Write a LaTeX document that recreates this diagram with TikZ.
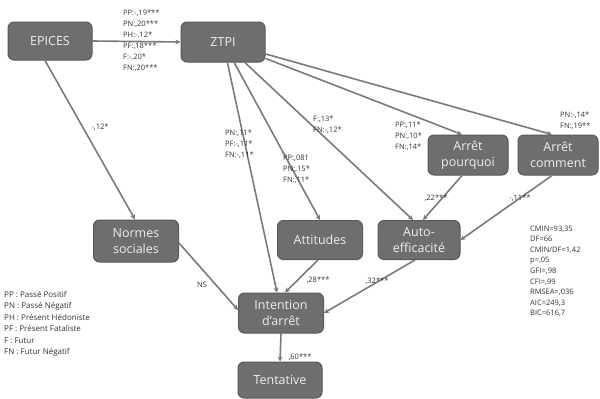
\documentclass[tikz,border=0pt]{standalone}
\usepackage{fontspec}
\setmainfont{Open Sans}
\usetikzlibrary{arrows.meta,calc}
\definecolor{boxfill}{HTML}{6E6E6E}
\definecolor{boxline}{HTML}{595959}
\definecolor{boxtext}{HTML}{EEEEEE}
\definecolor{edgecol}{HTML}{7A7A7A}
\definecolor{labeltext}{HTML}{333333}
\begin{document}
\begin{tikzpicture}[x=1pt,y=-1pt,
  box/.style={draw=boxline, fill=boxfill, line width=1pt, rounded corners=6pt,
    text=boxtext, font=\fontsize{12.5}{15.5}\selectfont, align=center, inner sep=0pt},
  edge/.style={draw=edgecol, line width=1.6pt, -{Stealth[length=5pt,width=5pt]}},
  lbl/.style={font=\fontsize{7.5}{11}\selectfont, text=labeltext, align=left, inner sep=0pt, anchor=north west},
  clbl/.style={font=\fontsize{7.5}{11}\selectfont, text=labeltext, inner sep=0pt}
]
\useasboundingbox (0,0) rectangle (600,399);
% boxes
\node[box, minimum width=84pt, minimum height=38pt] (epices) at (50,41) {EPICES};
\node[box, minimum width=84pt, minimum height=40pt] (ztpi) at (223,42) {ZTPI};
\node[box, minimum width=80pt, minimum height=40pt] (pourquoi) at (468,155) {Arrêt\\pourquoi};
\node[box, minimum width=80pt, minimum height=40pt] (comment) at (558,155) {Arrêt\\comment};
\node[box, minimum width=85pt, minimum height=42pt] (normes) at (136,241) {Normes\\sociales};
\node[box, minimum width=85pt, minimum height=39pt] (attitudes) at (320,240) {Attitudes};
\node[box, minimum width=82pt, minimum height=39pt] (auto) at (419,240) {Auto-\\efficacité};
\node[box, minimum width=85pt, minimum height=40pt] (intention) at (281,313) {Intention\\d'arrêt};
\node[box, minimum width=84pt, minimum height=36pt] (tentative) at (280,380) {Tentative};
% edges
\draw[edge] (epices.east) -- (ztpi.west);
\draw[edge] ($(epices.south)+(-5,0)$) -- ($(normes.north)+(-1,0)$);
\draw[edge] (ztpi) -- ($(intention.north)+(-4,0)$);
\draw[edge] (ztpi) -- (attitudes.north);
\draw[edge] (ztpi) -- ($(auto.north)+(-6,0)$);
\draw[edge] (ztpi) -- ($(pourquoi.north)+(-6,0)$);
\draw[edge] (ztpi) -- ($(comment.north)+(-6,0)$);
\draw[edge] ($(pourquoi.south)+(-6,0)$) -- ($(auto.north)+(4,0)$);
\draw[edge] ($(comment.south)+(-6,0)$) -- (auto.east);
\draw[edge] ($(normes.east)+(0,2)$) -- ($(intention.west)+(0,-3)$);
\draw[edge] ($(attitudes.south)+(-2,0)$) -- ($(intention.north)+(4,0)$);
\draw[edge] ($(auto.south)+(-4,0)$) -- (intention.east);
\draw[edge] (intention.south) -- (tentative.north);
% edge labels
\node[lbl] (l1) at (123,9.3) {PP:-,19***\\PN:,20***\\PH:-,12*\\PF:,18***\\F:-,20*\\FN:,20***};
\node[clbl] (l2) at (100,127) {-,12*};
\node[lbl] (l3) at (225,129.3) {PN:,11*\\PF:-,11*\\FN:-,11*};
\node[lbl] (l4) at (283,154.3) {PP:,08†\\PN:,15*\\FN:,11*};
\node[lbl] (l5) at (313,115.3) {F:,13*\\FN:-,12*};
\node[lbl] (l6) at (395,121.3) {PP:,11*\\PN:,10*\\FN:,14*};
\node[lbl] (l7) at (560,111.3) {PN:-,14*\\FN:,19**};
\node[clbl] (l8) at (436,198) {,22***};
\node[clbl] (l9) at (520,198) {-,11**};
\node[clbl] (l10) at (202,285) {NS};
\node[clbl] (l11) at (318,280) {,28***};
\node[clbl] (l12) at (377,281) {,32***};
\node[clbl] (l13) at (300,357) {,60***};
% legend
\node[lbl, font=\fontsize{8}{11.5}\selectfont] (legend) at (4,291) {PP : Passé Positif\\PN : Passé Négatif\\PH : Présent Hédoniste\\PF : Présent Fataliste\\F : Futur\\FN : Futur Négatif};
% fit indices
\node[lbl, font=\fontsize{7.5}{10.6}\selectfont] (fit) at (530,225.5) {CMIN=93,35\\DF=66\\CMIN/DF=1,42\\p=,05\\GFI=,98\\CFI=,99\\RMSEA=,036\\AIC=249,3\\BIC=616,7};
\end{tikzpicture}
\end{document}
